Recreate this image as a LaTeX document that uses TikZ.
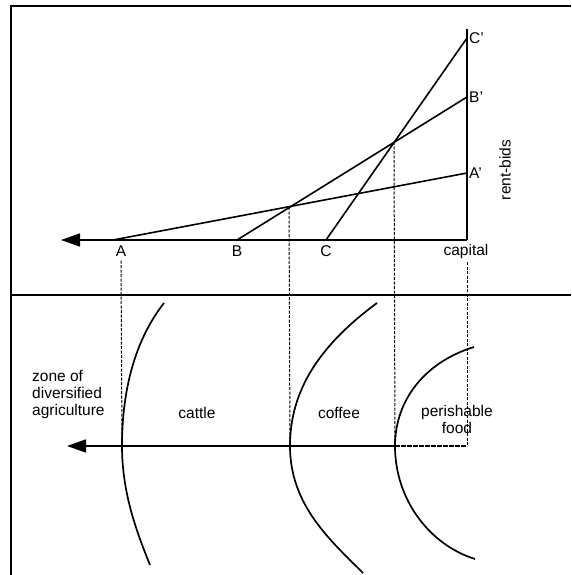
\documentclass[tikz,border=0pt]{standalone}
\usepackage{fontspec}
\setmainfont{Liberation Sans}
\usetikzlibrary{arrows.meta}
\begin{document}
\begin{tikzpicture}[x=1pt,y=-1pt,
  frame/.style={line width=1.8pt},
  axisline/.style={line width=1.7pt,-{Triangle[length=19pt,width=13pt]}},
  bid/.style={line width=1.6pt},
  guide/.style={line width=1pt,dash pattern=on 3pt off 1.5pt},
  zonecurve/.style={line width=1.7pt},
  lbl/.style={font=\fontsize{15.5}{17}\selectfont,inner sep=0pt},
  lblc/.style={lbl,align=center},
  lbll/.style={lbl,align=left}]
\useasboundingbox (0,0) rectangle (571,575);
% frame
\draw[frame] (11,575) -- (11,6) -- (571,6);
\draw[frame] (11,295) -- (571,295);
% upper diagram points
\coordinate (cap) at (467,240);
\coordinate (top) at (467,29);
\coordinate (upend) at (61,240);
\coordinate (A) at (113,240);
\coordinate (B) at (237,240);
\coordinate (C) at (326,240);
\coordinate (A') at (467,173);
\coordinate (B') at (467,97);
\coordinate (C') at (467,38);
\coordinate (X1) at (289,207);
\coordinate (X2) at (394,142);
% axes
\draw[axisline] (cap) -- (upend);
\draw[frame] (cap) -- (top);
% rent-bid lines
\draw[bid] (A) -- (A');
\draw[bid] (B) -- (B');
\draw[bid] (C) -- (C');
% labels upper
\node[lbl] (lA) at (121,251) {A};
\node[lbl] (lB) at (237,251) {B};
\node[lbl] (lC) at (326,251) {C};
\node[lbl] (lcap) at (466,251) {capital};
\node[lbl,anchor=west] (lA') at (469,173) {A'};
\node[lbl,anchor=west] (lB') at (469,97) {B'};
\node[lbl,anchor=west] (lC') at (469,38) {C'};
\node[lbl,rotate=90] (rb) at (505,170) {rent-bids};
% lower diagram
\coordinate (cap2) at (467,446);
\coordinate (loend) at (67,446);
\coordinate (v1) at (122,446);
\coordinate (v2) at (290,446);
\coordinate (v3) at (395,446);
\draw[axisline] (v3) -- (loend);
\draw[line width=1.2pt,dash pattern=on 5pt off 1pt] (v3) -- (cap2);
% dashed guides
\draw[guide] (lA.south) ++(0,4) coordinate (gA) -- (v1);
\draw[guide] (X1) -- (v2);
\draw[guide] (X2) -- (v3);
\draw[guide] (lcap.south) ++(1,4) coordinate (gc) -- (cap2);
% zone curves
\draw[zonecurve] (164,303) .. controls (135,340) and (122,390) .. (v1) .. controls (122,495) and (138,535) .. (150,565);
\draw[zonecurve] (377,303) .. controls (320,345) and (290,390) .. (v2) .. controls (290,505) and (330,540) .. (363,573);
\draw[zonecurve] (474,347) .. controls (425,362) and (395,400) .. (v3) .. controls (395,500) and (430,545) .. (475,559);
% zone labels
\node[lbll,anchor=north west] (zdiv) at (32,370) {zone of\\diversified\\agriculture};
\node[lblc] (zcat) at (197,413) {cattle};
\node[lblc] (zcof) at (339,413) {coffee};
\node[lblc,anchor=north] (zper) at (457,405) {perishable\\food};
\end{tikzpicture}
\end{document}
